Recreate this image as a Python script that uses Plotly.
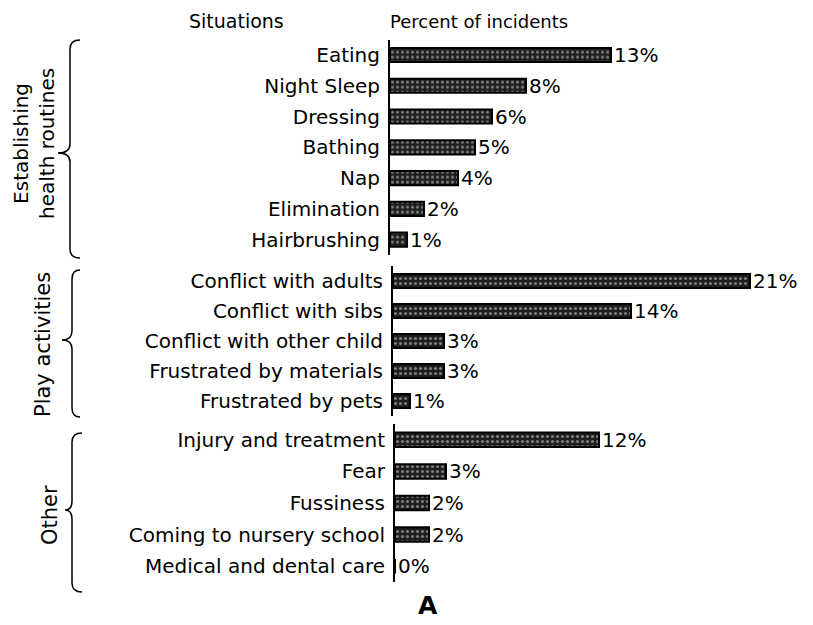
import plotly.graph_objects as go
from plotly.subplots import make_subplots

health_items = ["Eating", "Night Sleep", "Dressing", "Bathing", "Nap", "Elimination", "Hairbrushing"]
health_pct = [13, 8, 6, 5, 4, 2, 1]

play_items = ["Conflict with adults", "Conflict with sibs", "Conflict with other child",
              "Frustrated by materials", "Frustrated by pets"]
play_pct = [21, 14, 3, 3, 1]

other_items = ["Injury and treatment", "Fear", "Fussiness", "Coming to nursery school",
               "Medical and dental care"]
other_pct = [12, 3, 2, 2, 0]

groups = [
    (health_items, health_pct),
    (play_items, play_pct),
    (other_items, other_pct),
]

# page has an 8px body margin, so the figure is a little smaller than the window
W, H = 805, 617
ML, MR, MT, MB = 382, 8, 31, 43
PW, PH = W - ML - MR, H - MT - MB
PX_PER_PCT = 17
XMAX = PW / PX_PER_PCT

# helpers: window pixel -> paper coords
def px(x):
    return (x - 8 - ML) / PW

def py(y):
    return (H - MB - (y - 8)) / PH

FONT = "DejaVu Sans, Verdana, sans-serif"

fig = make_subplots(rows=3, cols=1)

for i, (items, vals) in enumerate(groups, start=1):
    fig.add_trace(
        go.Bar(
            y=items,
            x=vals,
            orientation="h",
            width=0.46,
            marker=dict(
                color="#1e1e1e",
                line=dict(color="black", width=2),
                pattern=dict(shape=".", fgcolor="#d8d8d8", bgcolor="#1e1e1e",
                             size=5, solidity=0.3),
            ),
            text=[f"{v}%" for v in vals],
            textposition="outside",
            constraintext="none",
            cliponaxis=False,
            textfont=dict(family=FONT, size=20, color="black"),
            showlegend=False,
        ),
        row=i, col=1,
    )

# each group has its own axis line, slightly shifted like the original
axis_x = [390, 393, 395]
y_dom = [(255, 39.6), (416, 266), (582, 424)]
for i, (items, vals) in enumerate(groups, start=1):
    suffix = "" if i == 1 else str(i)
    x0 = px(axis_x[i - 1])
    fig.update_layout({
        f"yaxis{suffix}": dict(
            domain=[py(y_dom[i - 1][0]), py(y_dom[i - 1][1])],
            categoryorder="array",
            categoryarray=items[::-1],
            showline=True, linecolor="black", linewidth=2,
            ticks="", showgrid=False, zeroline=False,
            ticklabelstandoff=4,
            tickfont=dict(family=FONT, size=20, color="black"),
        ),
        f"xaxis{suffix}": dict(
            domain=[x0, x0 + 1 - px(axis_x[-1])],
            range=[0, XMAX * (1 - px(axis_x[-1]))],
            visible=False, showgrid=False, zeroline=False,
        ),
    })

# curly braces at the left of each group
def brace(top, bottom, mid, x0, x1, xt):
    r = 9
    p = (f"M {px(x1)},{py(top)} Q {px(x0)},{py(top)} {px(x0)},{py(top + r)} "
         f"L {px(x0)},{py(mid - r)} Q {px(x0)},{py(mid)} {px(xt)},{py(mid)} "
         f"Q {px(x0)},{py(mid)} {px(x0)},{py(mid + r)} "
         f"L {px(x0)},{py(bottom - r)} Q {px(x0)},{py(bottom)} {px(x1)},{py(bottom)}")
    return dict(type="path", path=p, xref="paper", yref="paper",
                line=dict(color="black", width=1.5))

fig.update_layout(shapes=[
    brace(40, 258, 153, 70, 80, 58),
    brace(270, 417, 340, 72, 80, 62),
    brace(433, 592, 510, 72, 82, 65),
])

labels = [
    dict(text="Situations", x=236, y=21, size=19),
    dict(text="Percent of incidents", x=388, y=21, size=18, xanchor="left"),
    dict(text="<b>A</b>", x=428, y=606, size=25),
    dict(text="Establishing<br>health routines", x=34, y=144, size=20, angle=-90),
    dict(text="Play activities", x=43, y=345, size=21, angle=-90),
    dict(text="Other", x=50, y=515, size=21, angle=-90),
]
fig.update_layout(annotations=[
    dict(text=a["text"], x=px(a["x"]), y=py(a["y"]), xref="paper", yref="paper",
         showarrow=False, textangle=a.get("angle", 0),
         xanchor=a.get("xanchor", "center"), yanchor="middle",
         font=dict(family=FONT, size=a["size"], color="black"))
    for a in labels
])

fig.update_layout(
    width=W, height=H,
    margin=dict(l=ML, r=MR, t=MT, b=MB),
    plot_bgcolor="white", paper_bgcolor="white",
)

fig.write_html("out.html")
